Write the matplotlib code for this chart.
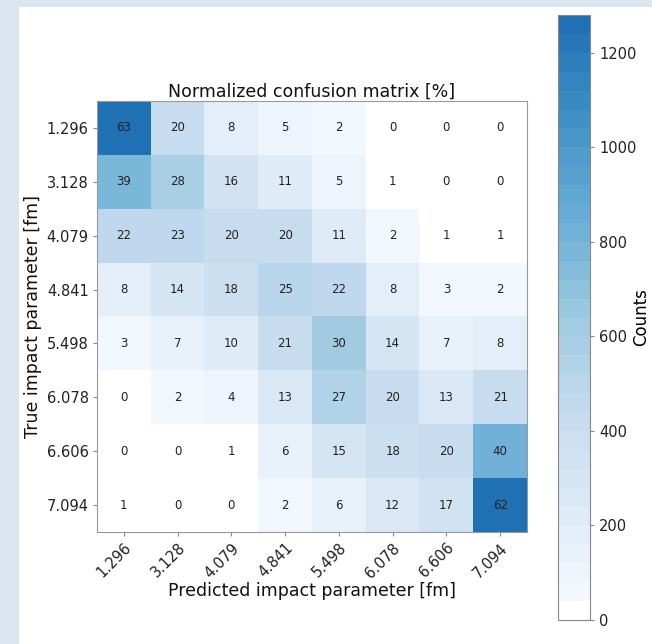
import numpy as np
import matplotlib
matplotlib.use("Agg")
import matplotlib.pyplot as plt
from matplotlib.colors import ListedColormap, BoundaryNorm
from matplotlib.patches import Rectangle

plt.rcParams['font.family'] = ['DejaVu Sans']

bins = ["1.296", "3.128", "4.079", "4.841", "5.498", "6.078", "6.606", "7.094"]

# row-normalised percentages (true bin = row, predicted bin = column)
percent = np.array([
    [63, 20,  8,  5,  2,  0,  0,  0],
    [39, 28, 16, 11,  5,  1,  0,  0],
    [22, 23, 20, 20, 11,  2,  1,  1],
    [ 8, 14, 18, 25, 22,  8,  3,  2],
    [ 3,  7, 10, 21, 30, 14,  7,  8],
    [ 0,  2,  4, 13, 27, 20, 13, 21],
    [ 0,  0,  1,  6, 15, 18, 20, 40],
    [ 1,  0,  0,  2,  6, 12, 17, 62],
])
# events per true bin (quantile bins, equal occupancy)
row_totals = np.array([2030, 2030, 2030, 2030, 2030, 2030, 2030, 2030])
counts = percent * row_totals[:, None] / 100.0

cmax = 1280
n_levels = 32
base = plt.get_cmap('Blues')
colors = base(np.linspace(0.0, 0.75, n_levels))
colors[0] = (1.0, 1.0, 1.0, 1.0)
cmap = ListedColormap(colors)
norm = BoundaryNorm(np.linspace(0, cmax, n_levels + 1), cmap.N)

fig = plt.figure(figsize=(6.52, 6.44), dpi=100)
fig.patch.set_facecolor('#dce6f0')
fig.add_artist(Rectangle((19 / 652, 0), 1, 1 - 7 / 644, transform=fig.transFigure,
                         facecolor='white', edgecolor='none', zorder=-10))

ax = fig.add_axes([97 / 652, 1 - 532 / 644, 430 / 652, 431 / 644])
im = ax.imshow(counts, cmap=cmap, norm=norm, aspect='auto', interpolation='nearest')

for i in range(len(bins)):
    for j in range(len(bins)):
        ax.text(j, i, f"{percent[i, j]:d}", ha='center', va='center',
                fontsize=8.5, color='#222222')

ax.set_xticks(range(len(bins)))
ax.set_yticks(range(len(bins)))
ax.set_xticklabels(bins, rotation=45, ha='right', rotation_mode='anchor', fontsize=10.5)
ax.set_yticklabels(bins, fontsize=10.5)
ax.tick_params(length=3, color='#888888', labelcolor='#222222', pad=3)
for s in ax.spines.values():
    s.set_color('#999999')
    s.set_linewidth(0.8)

ax.set_title("Normalized confusion matrix [%]", fontsize=12.5, pad=3, color='#111111')
ax.set_xlabel("Predicted impact parameter [fm]", fontsize=12.5, labelpad=1, color='#111111')
ax.set_ylabel("True impact parameter [fm]", fontsize=12.5, labelpad=3, color='#111111')

cax = fig.add_axes([558 / 652, 1 - 620 / 644, 32 / 652, 605 / 644])
cb = fig.colorbar(im, cax=cax, ticks=[0, 200, 400, 600, 800, 1000, 1200])
cb.ax.minorticks_off()
cb.set_label("Counts", fontsize=12, rotation=90)
cb.ax.yaxis.set_label_coords(2.33, 0.5)
cb.ax.tick_params(labelsize=10.5, length=3, color='#888888', labelcolor='#222222')
cb.outline.set_edgecolor('#888888')
cb.outline.set_linewidth(0.8)

fig.savefig("out.png", dpi=100)
